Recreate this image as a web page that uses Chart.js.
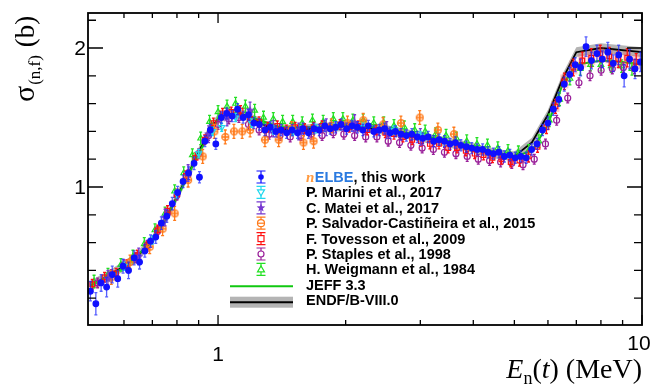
<!DOCTYPE html>
<html>
<head>
<meta charset="utf-8">
<script src="https://cdn.jsdelivr.net/npm/chart.js@4.4.1/dist/chart.umd.min.js"></script>
<style>
	html, body { margin: 0; padding: 0; background: #fff; }
	#wrap { width: 658px; height: 385px; }
</style>
</head>
<body>
<div id="wrap"><canvas id="chart-pu-fission" width="658" height="385"></canvas></div>
<script>
// ---------------------------------------------------------
// Data
// ---------------------------------------------------------

// nELBE, this work
const NELBE_E = [
	0.50, 0.515, 0.53, 0.546, 0.563, 0.58, 0.597, 0.615, 0.634, 0.653,
	0.672, 0.693, 0.713, 0.735, 0.757, 0.78, 0.803, 0.827, 0.852, 0.878,
	0.904, 0.931, 0.959, 0.988, 1.018, 1.048, 1.08, 1.112, 1.146, 1.18,
	1.215, 1.252, 1.29, 1.328, 1.368, 1.409, 1.451, 1.495, 1.54, 1.586,
	1.634, 1.683, 1.733, 1.785, 1.839, 1.894, 1.951, 2.01, 2.07, 2.132,
	2.196, 2.262, 2.33, 2.4, 2.472, 2.546, 2.622, 2.701, 2.782, 2.865,
	2.951, 3.04, 3.131, 3.225, 3.322, 3.421, 3.524, 3.63, 3.739, 3.851,
	3.966, 4.085, 4.208, 4.334, 4.464, 4.598, 4.736, 4.878, 5.025, 5.175,
	5.331, 5.491, 5.655, 5.825, 6.0, 6.18, 6.365, 6.556, 6.753, 6.956,
	7.164, 7.379, 7.601, 7.829, 8.064, 8.306, 8.555, 8.811, 9.076, 9.348,
	9.628, 9.917,
];
const NELBE_V = [
	0.25, 0.16, 0.31, 0.28, 0.37, 0.34, 0.43, 0.40, 0.49, 0.46,
	0.54, 0.61, 0.64, 0.74, 0.79, 0.88, 0.96, 1.04, 1.10, 1.17,
	1.07, 1.33, 1.41, 1.31, 1.50, 1.53, 1.51, 1.56, 1.50, 1.52,
	1.46, 1.45, 1.41, 1.43, 1.40, 1.41, 1.39, 1.41, 1.39, 1.42,
	1.39, 1.42, 1.41, 1.44, 1.42, 1.43, 1.45, 1.42, 1.44, 1.43,
	1.41, 1.44, 1.40, 1.41, 1.42, 1.39, 1.40, 1.38, 1.37, 1.38,
	1.36, 1.35, 1.36, 1.33, 1.34, 1.33, 1.31, 1.32, 1.30, 1.29,
	1.28, 1.27, 1.27, 1.25, 1.24, 1.25, 1.22, 1.23, 1.21, 1.22,
	1.21, 1.27, 1.31, 1.41, 1.46, 1.56, 1.63, 1.74, 1.81, 1.88,
	1.86, 2.01, 1.91, 1.96, 1.92, 1.97, 1.89, 1.95, 1.80, 1.92,
	1.85, 1.90,
];
const NELBE_ERR = [
	0.07, 0.08, 0.06, 0.07, 0.06, 0.06, 0.05, 0.06, 0.05, 0.05,
	0.045, 0.045, 0.045, 0.045, 0.045, 0.045, 0.045, 0.045, 0.045, 0.045,
	0.04, 0.04, 0.04, 0.04, 0.04, 0.04, 0.04, 0.04, 0.04, 0.04,
	0.04, 0.04, 0.04, 0.04, 0.04, 0.04, 0.04, 0.04, 0.04, 0.04,
	0.04, 0.04, 0.04, 0.04, 0.04, 0.04, 0.04, 0.04, 0.04, 0.04,
	0.04, 0.04, 0.04, 0.04, 0.04, 0.04, 0.04, 0.04, 0.04, 0.04,
	0.04, 0.04, 0.04, 0.04, 0.04, 0.04, 0.04, 0.04, 0.04, 0.04,
	0.04, 0.04, 0.04, 0.04, 0.04, 0.04, 0.04, 0.04, 0.04, 0.04,
	0.04, 0.04, 0.04, 0.04, 0.045, 0.045, 0.05, 0.05, 0.05, 0.05,
	0.06, 0.07, 0.06, 0.06, 0.06, 0.07, 0.06, 0.07, 0.08, 0.07,
	0.07, 0.07,
];

// P. Marini et al., 2017
const MARINI_E = [0.6, 0.7, 0.8, 0.9, 0.97, 1.02, 1.1, 1.2, 1.35, 1.5, 1.7, 1.9, 2.2, 2.6, 3.0];
const MARINI_V = [0.43, 0.62, 0.95, 1.24, 1.40, 1.43, 1.50, 1.46, 1.41, 1.40, 1.42, 1.44, 1.43, 1.41, 1.37];
const MARINI_ERR = 0.03;

// C. Matei et al., 2017
const MATEI_E = [0.55, 0.65, 0.75, 0.85, 0.95, 1.05, 1.19, 1.35, 1.55, 1.8, 2.1, 2.5, 3.0];
const MATEI_V = [0.34, 0.50, 0.78, 1.10, 1.38, 1.50, 1.55, 1.42, 1.40, 1.43, 1.46, 1.41, 1.36];
const MATEI_ERR = 0.06;

// P. Salvador-Castiñeira et al., 2015
const SALVADOR_E = [0.56, 0.62, 0.69, 0.74, 0.79, 0.85, 0.92, 0.98, 1.04, 1.09, 1.14, 1.19, 1.29, 1.39, 1.49, 1.59, 1.68, 1.85, 2.02, 2.2, 2.45, 2.7, 2.99, 3.3, 3.6];
const SALVADOR_V = [0.35, 0.46, 0.57, 0.70, 0.81, 1.05, 1.22, 1.40, 1.36, 1.40, 1.40, 1.41, 1.34, 1.34, 1.42, 1.32, 1.33, 1.44, 1.46, 1.48, 1.45, 1.46, 1.50, 1.41, 1.38];
const SALVADOR_ERR = 0.05;

// F. Tovesson et al., 2009
const TOVESSON_E = [
	0.505, 0.54, 0.575, 0.61, 0.645, 0.68, 0.72, 0.76, 0.80, 0.84,
	0.885, 0.93, 0.975, 1.025, 1.075, 1.13, 1.19, 1.25, 1.31, 1.38,
	1.45, 1.52, 1.60, 1.68, 1.76, 1.85, 1.94, 2.04, 2.14, 2.25,
	2.36, 2.48, 2.6, 2.73, 2.87, 3.01, 3.16, 3.32, 3.49, 3.66,
	3.84, 4.03, 4.23, 4.44, 4.66, 4.9, 5.14, 5.4, 5.67, 5.95,
	6.25, 6.56, 6.89, 7.23, 7.59, 7.97, 8.37, 8.79, 9.23, 9.69,
];
const TOVESSON_V = [
	0.30, 0.35, 0.38, 0.44, 0.51, 0.57, 0.69, 0.83, 0.95, 1.08,
	1.21, 1.34, 1.46, 1.53, 1.54, 1.55, 1.49, 1.47, 1.43, 1.44,
	1.41, 1.43, 1.42, 1.43, 1.44, 1.43, 1.45, 1.43, 1.44, 1.41,
	1.41, 1.39, 1.38, 1.36, 1.34, 1.33, 1.31, 1.31, 1.28, 1.28,
	1.26, 1.24, 1.23, 1.21, 1.20, 1.18, 1.19, 1.22, 1.29, 1.43,
	1.58, 1.76, 1.86, 1.91, 1.93, 1.96, 1.94, 1.92, 1.93, 1.90,
];
const TOVESSON_ERR = [
	0.035, 0.035, 0.035, 0.035, 0.035, 0.035, 0.035, 0.035, 0.035, 0.035,
	0.035, 0.035, 0.035, 0.035, 0.035, 0.035, 0.035, 0.035, 0.035, 0.035,
	0.035, 0.035, 0.035, 0.035, 0.035, 0.035, 0.035, 0.035, 0.035, 0.035,
	0.035, 0.035, 0.035, 0.035, 0.035, 0.035, 0.035, 0.035, 0.035, 0.035,
	0.035, 0.035, 0.035, 0.035, 0.035, 0.035, 0.04, 0.04, 0.04, 0.045,
	0.05, 0.06, 0.06, 0.06, 0.065, 0.06, 0.065, 0.06, 0.065, 0.06,
];
// systematic boxes (shaded) at the high-energy end
const TOVESSON_SYS = [
	0, 0, 0, 0, 0, 0, 0, 0, 0, 0,
	0, 0, 0, 0, 0, 0, 0, 0, 0, 0,
	0, 0, 0, 0, 0, 0, 0, 0, 0, 0,
	0, 0, 0, 0, 0, 0, 0, 0, 0, 0,
	0, 0, 0, 0, 0, 0, 0, 0, 0, 0,
	0.04, 0.05, 0.05, 0.05, 0.05, 0.05, 0.05, 0.05, 0.05, 0.05,
];

// P. Staples et al., 1998
const STAPLES_E = [
	0.52, 0.56, 0.60, 0.64, 0.68, 0.72, 0.76, 0.80, 0.85, 0.90,
	0.95, 1.0, 1.06, 1.12, 1.18, 1.25, 1.32, 1.40, 1.48, 1.57,
	1.66, 1.76, 1.87, 1.98, 2.1, 2.23, 2.37, 2.52, 2.68, 2.85,
	3.03, 3.22, 3.42, 3.64, 3.87, 4.11, 4.37, 4.64, 4.93, 5.24,
	5.57, 5.92, 6.29, 6.68, 7.1, 7.54, 8.01, 8.51, 9.04, 9.6,
];
const STAPLES_V = [
	0.31, 0.37, 0.44, 0.49, 0.58, 0.68, 0.81, 0.94, 1.09, 1.24,
	1.37, 1.45, 1.49, 1.50, 1.45, 1.41, 1.38, 1.37, 1.36, 1.37,
	1.38, 1.37, 1.39, 1.38, 1.37, 1.36, 1.36, 1.33, 1.32, 1.30,
	1.28, 1.27, 1.25, 1.24, 1.22, 1.20, 1.19, 1.18, 1.17, 1.16,
	1.20, 1.31, 1.48, 1.64, 1.75, 1.80, 1.84, 1.85, 1.86, 1.85,
];
const STAPLES_ERR = 0.035;

// H. Weigmann et al., 1984
const WEIGMANN_E = [
	0.51, 0.55, 0.59, 0.63, 0.67, 0.71, 0.75, 0.79, 0.83, 0.87,
	0.91, 0.955, 1.0, 1.05, 1.10, 1.16, 1.22, 1.28, 1.35, 1.42,
	1.50, 1.58, 1.67, 1.77, 1.87, 1.97, 2.08, 2.2, 2.33, 2.46,
	2.6, 2.75, 2.91, 3.08, 3.26, 3.45, 3.65, 3.86, 4.08, 4.32,
	4.57, 4.83, 5.11, 5.4, 5.71, 6.04, 6.39, 6.76, 7.15, 7.56,
	8.0, 8.46, 8.95, 9.47,
];
const WEIGMANN_V = [
	0.32, 0.37, 0.44, 0.50, 0.59, 0.69, 0.81, 0.97, 1.10, 1.23,
	1.35, 1.47, 1.54, 1.58, 1.60, 1.58, 1.55, 1.50, 1.49, 1.47,
	1.47, 1.46, 1.48, 1.47, 1.49, 1.49, 1.48, 1.48, 1.46, 1.46,
	1.44, 1.43, 1.41, 1.40, 1.38, 1.37, 1.35, 1.33, 1.31, 1.30,
	1.28, 1.26, 1.25, 1.26, 1.33, 1.48, 1.63, 1.78, 1.85, 1.88,
	1.88, 1.87, 1.87, 1.85,
];
const WEIGMANN_ERR = 0.045;

// JEFF 3.3 evaluation
const JEFF_E = [0.5, 0.6, 0.7, 0.8, 0.9, 1.0, 1.1, 1.2, 1.4, 1.7, 2.0, 2.5, 3.0, 3.5, 4.0, 4.5, 5.0, 5.5, 6.0, 6.5, 7.0, 8.0, 9.0, 10.0];
const JEFF_V = [0.29, 0.42, 0.61, 0.92, 1.24, 1.49, 1.53, 1.50, 1.43, 1.43, 1.45, 1.42, 1.37, 1.33, 1.29, 1.25, 1.22, 1.26, 1.45, 1.74, 1.88, 1.91, 1.90, 1.88];

// ENDF/B-VIII.0 evaluation with uncertainty band
const ENDF_E = [0.5, 0.55, 0.6, 0.65, 0.7, 0.75, 0.8, 0.85, 0.9, 0.95, 1.0, 1.05, 1.1, 1.15, 1.2, 1.3, 1.4, 1.5, 1.7, 2.0, 2.5, 3.0, 3.5, 4.0, 4.5, 5.0, 5.5, 6.0, 6.5, 7.0, 8.0, 10.0];
const ENDF_V = [0.29, 0.36, 0.43, 0.51, 0.62, 0.76, 0.93, 1.09, 1.25, 1.40, 1.49, 1.52, 1.53, 1.52, 1.49, 1.44, 1.42, 1.41, 1.42, 1.44, 1.41, 1.36, 1.32, 1.28, 1.24, 1.22, 1.32, 1.52, 1.78, 1.97, 2.0, 1.97];
const ENDF_UNC = 0.035;

// Axis ticks and labels
const X_MAJOR = [1, 10];
const X_MINOR = [0.6, 0.7, 0.8, 0.9, 2, 3, 4, 5, 6, 7, 8, 9];
const X_LABELS = ["1", "10"];
const Y_MAJOR = [1, 2];
const Y_MINOR = [0.2, 0.4, 0.6, 0.8, 1.2, 1.4, 1.6, 1.8, 2.2];
const Y_LABELS = ["1", "2"];

const LEGEND_LABELS = [
	"nELBE, this work",
	"P. Marini et al., 2017",
	"C. Matei et al., 2017",
	"P. Salvador-Castiñeira et al., 2015",
	"F. Tovesson et al., 2009",
	"P. Staples et al., 1998",
	"H. Weigmann et al., 1984",
	"JEFF 3.3",
	"ENDF/B-VIII.0",
];

// ---------------------------------------------------------
// Styles
// ---------------------------------------------------------
const COLORS = {
	nelbe: "#1010ff",
	marini: "#22d8ee",
	matei: "#7638d0",
	salvador: "#ff7a1a",
	tovesson: "#ff1010",
	staples: "#9a209a",
	weigmann: "#22e022",
	jeff: "#10c810",
	endf: "#000000",
	band: "#b4b4b4",
};
const SANS = "'Liberation Sans', Arial, Helvetica, sans-serif";
const SERIF = "'Liberation Serif', 'Times New Roman', serif";

const toPoints = (xs, ys) => xs.map((x, i) => ({ x, y: ys[i] }));

// Small canvases used as custom ROOT-like markers
const markerCanvas = (size, draw) => {
	const c = document.createElement("canvas");
	c.width = size;
	c.height = size;
	draw(c.getContext("2d"), size / 2);
	return c;
};
const starPath = (ctx, cx, cy, r) => {
	ctx.beginPath();
	for (let k = 0; k < 10; k++) {
		const rr = k % 2 ? r * 0.42 : r;
		const a = -Math.PI / 2 + (k * Math.PI) / 5;
		ctx.lineTo(cx + rr * Math.cos(a), cy + rr * Math.sin(a));
	}
	ctx.closePath();
};
const STAR_MARKER = markerCanvas(12, (ctx, c) => {
	starPath(ctx, c, c, 5);
	ctx.fillStyle = COLORS.matei;
	ctx.fill();
});
const CROSS_CIRCLE_MARKER = markerCanvas(12, (ctx, c) => {
	ctx.strokeStyle = COLORS.salvador;
	ctx.lineWidth = 1.3;
	ctx.beginPath();
	ctx.arc(c, c, 3.4, 0, Math.PI * 2);
	ctx.moveTo(c - 3.4, c);
	ctx.lineTo(c + 3.4, c);
	ctx.moveTo(c, c - 3.4);
	ctx.lineTo(c, c + 3.4);
	ctx.stroke();
});

// ---------------------------------------------------------
// Plugins
// ---------------------------------------------------------

// Vertical error bars (and optional shaded boxes), drawn under each dataset's markers
const errorBarPlugin = {
	id: "errorBars",
	beforeDatasetDraw(chart, args) {
		const ds = chart.data.datasets[args.index];
		if (ds.errors === undefined) return;
		const { ctx, chartArea, scales } = chart;
		ctx.save();
		ctx.beginPath();
		ctx.rect(chartArea.left, chartArea.top, chartArea.right - chartArea.left, chartArea.bottom - chartArea.top);
		ctx.clip();
		if (ds.sysErrors) {
			ctx.fillStyle = ds.sysColor;
			args.meta.data.forEach((pt, i) => {
				const s = ds.sysErrors[i];
				if (!s) return;
				const v = ds.data[i].y;
				const y1 = scales.y.getPixelForValue(v + s);
				const y2 = scales.y.getPixelForValue(v - s);
				ctx.fillRect(pt.x - 4, y1, 8, y2 - y1);
			});
		}
		ctx.strokeStyle = ds.errorColor;
		ctx.lineWidth = 1.3;
		args.meta.data.forEach((pt, i) => {
			const v = ds.data[i].y;
			const e = Array.isArray(ds.errors) ? ds.errors[i] : ds.errors;
			const y1 = scales.y.getPixelForValue(v - e);
			const y2 = scales.y.getPixelForValue(v + e);
			ctx.beginPath();
			ctx.moveTo(pt.x, y1);
			ctx.lineTo(pt.x, y2);
			ctx.moveTo(pt.x - 1.5, y1);
			ctx.lineTo(pt.x + 1.5, y1);
			ctx.moveTo(pt.x - 1.5, y2);
			ctx.lineTo(pt.x + 1.5, y2);
			ctx.stroke();
		});
		ctx.restore();
	},
};

// Legend marker drawing
const drawLegendMarker = (ctx, kind, x, y, color) => {
	ctx.save();
	ctx.strokeStyle = color;
	ctx.fillStyle = color;
	ctx.lineWidth = 1.2;
	// error bar with caps
	ctx.beginPath();
	ctx.moveTo(x, y - 6);
	ctx.lineTo(x, y + 6);
	ctx.moveTo(x - 4.5, y - 6);
	ctx.lineTo(x + 4.5, y - 6);
	ctx.moveTo(x - 4.5, y + 6);
	ctx.lineTo(x + 4.5, y + 6);
	ctx.stroke();
	ctx.beginPath();
	if (kind === "dot") {
		ctx.arc(x, y, 2.8, 0, Math.PI * 2);
		ctx.fill();
	} else if (kind === "down") {
		ctx.fillStyle = "#fff";
		ctx.moveTo(x - 3.5, y - 2.5);
		ctx.lineTo(x + 3.5, y - 2.5);
		ctx.lineTo(x, y + 3.5);
		ctx.closePath();
		ctx.fill();
		ctx.stroke();
	} else if (kind === "star") {
		starPath(ctx, x, y, 4.5);
		ctx.fill();
	} else if (kind === "crosscircle") {
		ctx.fillStyle = "#fff";
		ctx.arc(x, y, 3.5, 0, Math.PI * 2);
		ctx.fill();
		ctx.stroke();
		ctx.beginPath();
		ctx.moveTo(x - 3.5, y);
		ctx.lineTo(x + 3.5, y);
		ctx.stroke();
	} else if (kind === "square") {
		ctx.fillStyle = "#fff";
		ctx.fillRect(x - 3, y - 3, 6, 6);
		ctx.strokeRect(x - 3, y - 3, 6, 6);
	} else if (kind === "circle") {
		ctx.fillStyle = "#fff";
		ctx.arc(x, y, 3, 0, Math.PI * 2);
		ctx.fill();
		ctx.stroke();
	} else if (kind === "up") {
		ctx.fillStyle = "#fff";
		ctx.moveTo(x - 3.5, y + 2.5);
		ctx.lineTo(x + 3.5, y + 2.5);
		ctx.lineTo(x, y - 3.5);
		ctx.closePath();
		ctx.fill();
		ctx.stroke();
	}
	ctx.restore();
};

// Frame, inward ticks, labels, axis titles and legend
const framePlugin = {
	id: "rootFrame",
	afterDraw(chart) {
		const { ctx, chartArea: a, scales } = chart;
		const { x: xs, y: ys } = scales;
		ctx.save();

		// frame
		ctx.strokeStyle = "#000";
		ctx.lineWidth = 1.8;
		ctx.strokeRect(a.left, a.top, a.right - a.left, a.bottom - a.top);

		// ticks
		ctx.lineWidth = 1.3;
		ctx.beginPath();
		const xTick = (v, len) => {
			const px = xs.getPixelForValue(v);
			ctx.moveTo(px, a.bottom);
			ctx.lineTo(px, a.bottom - len);
			ctx.moveTo(px, a.top);
			ctx.lineTo(px, a.top + len);
		};
		const yTick = (v, len) => {
			const py = ys.getPixelForValue(v);
			ctx.moveTo(a.left, py);
			ctx.lineTo(a.left + len, py);
			ctx.moveTo(a.right, py);
			ctx.lineTo(a.right - len, py);
		};
		X_MAJOR.forEach((v) => xTick(v, 10));
		X_MINOR.forEach((v) => xTick(v, 5));
		Y_MAJOR.forEach((v) => yTick(v, 15));
		Y_MINOR.forEach((v) => yTick(v, 8));
		ctx.stroke();

		// tick labels
		ctx.fillStyle = "#000";
		ctx.font = `21px ${SANS}`;
		ctx.textAlign = "center";
		ctx.textBaseline = "alphabetic";
		ctx.fillText(X_LABELS[0], xs.getPixelForValue(X_MAJOR[0]), 361);
		ctx.fillText(X_LABELS[1], xs.getPixelForValue(X_MAJOR[1]) - 3, 350);
		ctx.textAlign = "right";
		ctx.textBaseline = "middle";
		Y_MAJOR.forEach((v, i) => ctx.fillText(Y_LABELS[i], a.left - 2, ys.getPixelForValue(v) + 1));

		// x title: E_n(t) (MeV)
		ctx.textAlign = "left";
		ctx.textBaseline = "alphabetic";
		const xParts = [
			{ t: "E", f: `italic 28px ${SERIF}`, dy: 0 },
			{ t: "n", f: `18px ${SERIF}`, dy: 6 },
			{ t: "(", f: `28px ${SERIF}`, dy: 0 },
			{ t: "t", f: `italic 28px ${SERIF}`, dy: 0 },
			{ t: ") (MeV)", f: `28px ${SERIF}`, dy: 0 },
		];
		let wTot = 0;
		xParts.forEach((p) => {
			ctx.font = p.f;
			p.w = ctx.measureText(p.t).width;
			wTot += p.w;
		});
		let cx = a.right - wTot;
		xParts.forEach((p) => {
			ctx.font = p.f;
			ctx.fillText(p.t, cx, 378 + p.dy);
			cx += p.w;
		});

		// y title: sigma_(n,f) (b)
		ctx.save();
		ctx.translate(34, 102);
		ctx.rotate(-Math.PI / 2);
		const yParts = [
			{ t: "σ", f: `30px ${SERIF}`, dy: 0 },
			{ t: "(n,f)", f: `17px ${SERIF}`, dy: 6 },
			{ t: " (b)", f: `27px ${SERIF}`, dy: 0 },
		];
		let cy = 0;
		yParts.forEach((p) => {
			ctx.font = p.f;
			ctx.fillText(p.t, cy, p.dy);
			cy += ctx.measureText(p.t).width + 1;
		});
		ctx.restore();

		// legend
		const LEG_X = 261;
		const TEXT_X = 306;
		const ROW0 = 177;
		const ROW_H = 15.4;
		const kinds = ["dot", "down", "star", "crosscircle", "square", "circle", "up"];
		const kindColors = [COLORS.nelbe, COLORS.marini, COLORS.matei, COLORS.salvador, COLORS.tovesson, COLORS.staples, COLORS.weigmann];
		kinds.forEach((k, i) => drawLegendMarker(ctx, k, LEG_X, ROW0 + i * ROW_H, kindColors[i]));
		const yJeff = ROW0 + 7 * ROW_H + 1.5;
		ctx.strokeStyle = COLORS.jeff;
		ctx.lineWidth = 2;
		ctx.beginPath();
		ctx.moveTo(230, yJeff);
		ctx.lineTo(293, yJeff);
		ctx.stroke();
		const yEndf = ROW0 + 8 * ROW_H + 2;
		ctx.fillStyle = COLORS.band;
		ctx.fillRect(230, yEndf - 5.5, 63, 11);
		ctx.strokeStyle = COLORS.endf;
		ctx.beginPath();
		ctx.moveTo(230, yEndf);
		ctx.lineTo(293, yEndf);
		ctx.stroke();

		ctx.textAlign = "left";
		ctx.textBaseline = "middle";
		ctx.fillStyle = "#000";
		LEGEND_LABELS.forEach((label, i) => {
			const ty = ROW0 + i * ROW_H + 1;
			if (i === 0) {
				// "n" italic orange, "ELBE" blue, rest black
				let tx = TEXT_X;
				ctx.font = `italic bold 15px ${SERIF}`;
				ctx.fillStyle = "#ff9a40";
				ctx.fillText(label.slice(0, 1), tx, ty);
				tx += ctx.measureText(label.slice(0, 1)).width + 0.5;
				ctx.font = `bold 14.5px ${SANS}`;
				ctx.fillStyle = "#2a7ae0";
				ctx.fillText(label.slice(1, 5), tx, ty);
				tx += ctx.measureText(label.slice(1, 5)).width;
				ctx.fillStyle = "#000";
				ctx.fillText(label.slice(5), tx, ty);
			} else {
				ctx.font = `bold 14.5px ${SANS}`;
				ctx.fillText(label, TEXT_X, ty);
			}
		});

		ctx.restore();
	},
};

// ---------------------------------------------------------
// Chart
// ---------------------------------------------------------
const scatterSet = (label, xs, ys, errs, color, extra) => ({
	label,
	type: "scatter",
	data: toPoints(xs, ys),
	errors: errs,
	errorColor: color,
	borderColor: color,
	backgroundColor: "rgba(255,255,255,0)",
	borderWidth: 1.2,
	pointRadius: 3,
	...extra,
});

const endfUpper = ENDF_V.map((v) => v + ENDF_UNC);
const endfLower = ENDF_V.map((v) => v - ENDF_UNC);

const CHART_DATA = {
	datasets: [
		scatterSet(LEGEND_LABELS[0], NELBE_E, NELBE_V, NELBE_ERR, COLORS.nelbe, {
			errorColor: "rgba(30,40,255,0.75)",
			backgroundColor: COLORS.nelbe,
			pointStyle: "circle",
			pointRadius: 2.8,
		}),
		scatterSet(LEGEND_LABELS[1], MARINI_E, MARINI_V, MARINI_ERR, COLORS.marini, {
			pointStyle: "triangle",
			rotation: 180,
			pointRadius: 3.5,
		}),
		scatterSet(LEGEND_LABELS[2], MATEI_E, MATEI_V, MATEI_ERR, COLORS.matei, {
			pointStyle: STAR_MARKER,
		}),
		scatterSet(LEGEND_LABELS[3], SALVADOR_E, SALVADOR_V, SALVADOR_ERR, COLORS.salvador, {
			pointStyle: CROSS_CIRCLE_MARKER,
		}),
		scatterSet(LEGEND_LABELS[4], TOVESSON_E, TOVESSON_V, TOVESSON_ERR, COLORS.tovesson, {
			sysErrors: TOVESSON_SYS,
			sysColor: "rgba(255,60,60,0.28)",
			pointStyle: "rect",
			pointRadius: 3.3,
		}),
		scatterSet(LEGEND_LABELS[5], STAPLES_E, STAPLES_V, STAPLES_ERR, COLORS.staples, {
			pointStyle: "circle",
			pointRadius: 3,
		}),
		scatterSet(LEGEND_LABELS[6], WEIGMANN_E, WEIGMANN_V, WEIGMANN_ERR, COLORS.weigmann, {
			pointStyle: "triangle",
			pointRadius: 3.3,
		}),
		{
			label: LEGEND_LABELS[7],
			type: "line",
			data: toPoints(JEFF_E, JEFF_V),
			borderColor: COLORS.jeff,
			borderWidth: 2,
			pointRadius: 0,
			fill: false,
		},
		{
			label: LEGEND_LABELS[8],
			type: "line",
			data: toPoints(ENDF_E, ENDF_V),
			borderColor: COLORS.endf,
			borderWidth: 1.8,
			pointRadius: 0,
			fill: false,
		},
		{
			label: "ENDF upper",
			type: "line",
			data: toPoints(ENDF_E, endfUpper),
			borderWidth: 0,
			borderColor: "rgba(0,0,0,0)",
			backgroundColor: COLORS.band,
			pointRadius: 0,
			fill: "+1",
		},
		{
			label: "ENDF lower",
			type: "line",
			data: toPoints(ENDF_E, endfLower),
			borderWidth: 0,
			borderColor: "rgba(0,0,0,0)",
			pointRadius: 0,
			fill: false,
		},
	],
};

const CHART_CONFIG = {
	type: "scatter",
	data: CHART_DATA,
	plugins: [errorBarPlugin, framePlugin],
	options: {
		responsive: false,
		animation: false,
		devicePixelRatio: 1,
		layout: {
			padding: { left: 88, right: 16, top: 13, bottom: 60 },
		},
		scales: {
			x: { type: "logarithmic", min: 0.4935, max: 10, display: false },
			y: { type: "linear", min: 0.007, max: 2.252, display: false },
		},
		plugins: {
			legend: { display: false },
			tooltip: { enabled: false },
		},
	},
};

const CHART_WRAPPER = document.getElementById("chart-pu-fission");
if (CHART_WRAPPER) {
	new Chart(CHART_WRAPPER, CHART_CONFIG);
}
</script>
</body>
</html>
